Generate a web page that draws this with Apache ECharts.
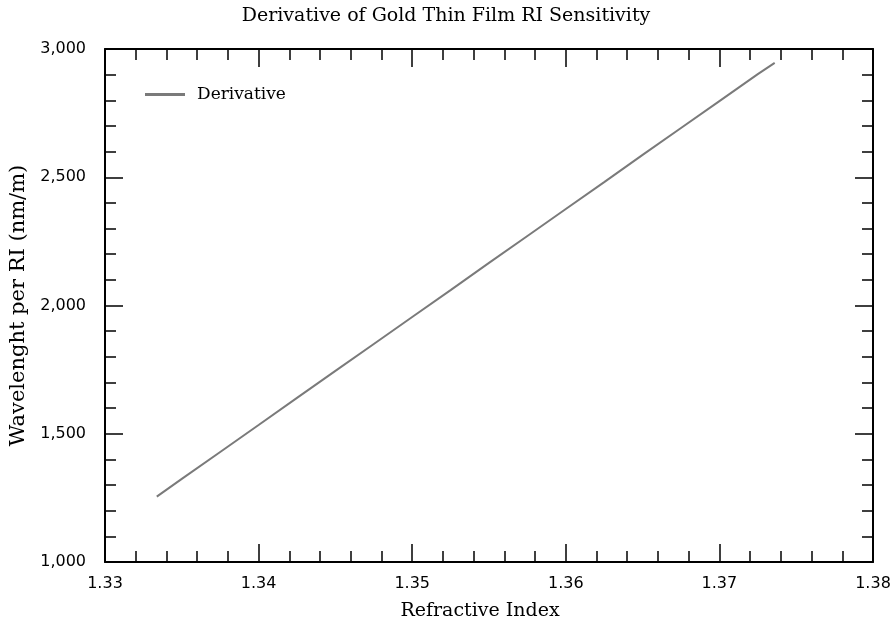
<!DOCTYPE html>
<html>
<head>
<meta charset="utf-8">
<script src="https://cdn.jsdelivr.net/npm/echarts@6/dist/echarts.min.js"></script>
<style>
  html, body { margin: 0; padding: 0; background: #fff; }
  #chart { width: 892px; height: 622px; }
</style>
</head>
<body>
<div id="chart"></div>
<script>
// Refractive index samples and the derivative of the resonance wavelength
const refractiveIndex = [1.33337, 1.3350, 1.3375, 1.3400, 1.3425, 1.3450, 1.3475, 1.3500, 1.3525,
  1.3550, 1.3575, 1.3600, 1.3625, 1.3650, 1.3675, 1.3700, 1.3725, 1.3736];
const derivative = [1255, 1324, 1429, 1534, 1640, 1745, 1850, 1955, 2060,
  2166, 2271, 2376, 2481, 2587, 2692, 2797, 2902, 2946];
const xTicks = [1.33, 1.34, 1.35, 1.36, 1.37, 1.38];
const yTicks = [1000, 1500, 2000, 2500, 3000];

const serif = '"DejaVu Serif", "Liberation Serif", serif';
const sans = '"DejaVu Sans", "Liberation Sans", sans-serif';

const chart = echarts.init(document.getElementById('chart'));

const frameAxis = {
  axisLine: { show: true, onZero: false, lineStyle: { color: '#000', width: 2 } },
  axisTick: { show: true, inside: true, length: 18, lineStyle: { color: '#000', width: 1.5 } },
  minorTick: { show: true, splitNumber: 5, length: 11, lineStyle: { color: '#000', width: 1.5 } },
  splitLine: { show: false }
};

chart.setOption({
  animation: false,
  backgroundColor: '#fff',
  title: {
    text: 'Derivative of Gold Thin Film RI Sensitivity',
    left: 'center',
    top: 2,
    textStyle: { fontFamily: serif, fontSize: 19, fontWeight: 'normal', color: '#000' }
  },
  legend: {
    left: 140,
    top: 81,
    itemWidth: 40,
    itemHeight: 3,
    itemGap: 10,
    textStyle: { fontFamily: serif, fontSize: 17, color: '#000', padding: [0, 0, 0, 7] },
    data: [{ name: 'Derivative', icon: 'rect' }]
  },
  grid: { left: 105, right: 19, top: 49, bottom: 60, outerBoundsMode: 'none', containLabel: false },
  xAxis: [
    Object.assign({
      type: 'value',
      position: 'bottom',
      min: xTicks[0],
      max: xTicks[xTicks.length - 1],
      interval: 0.01,
      name: 'Refractive Index',
      nameLocation: 'middle',
      nameGap: 40,
      nameTextStyle: { fontFamily: serif, fontSize: 19, color: '#000', padding: [0, 18, 0, 0] },
      axisLabel: {
        margin: 14,
        fontFamily: sans, fontSize: 16, color: '#000',
        formatter: v => v.toFixed(2)
      }
    }, frameAxis),
    Object.assign({
      type: 'value',
      position: 'top',
      min: xTicks[0],
      max: xTicks[xTicks.length - 1],
      interval: 0.01,
      axisLabel: { show: false }
    }, frameAxis)
  ],
  yAxis: [
    Object.assign({
      type: 'value',
      position: 'left',
      min: yTicks[0],
      max: yTicks[yTicks.length - 1],
      interval: 500,
      name: 'Wavelenght per RI (nm/m)',
      nameLocation: 'middle',
      nameGap: 74,
      nameTextStyle: { fontFamily: serif, fontSize: 21, color: '#000' },
      axisLabel: {
        margin: 19,
        fontFamily: sans, fontSize: 16, color: '#000',
        formatter: v => v.toLocaleString('en-US')
      }
    }, frameAxis),
    Object.assign({
      type: 'value',
      position: 'right',
      min: yTicks[0],
      max: yTicks[yTicks.length - 1],
      interval: 500,
      axisLabel: { show: false }
    }, frameAxis)
  ],
  series: [{
    name: 'Derivative',
    type: 'line',
    xAxisIndex: 0,
    yAxisIndex: 0,
    symbol: 'none',
    lineStyle: { color: '#7a7a7a', width: 2 },
    itemStyle: { color: '#7a7a7a' },
    data: refractiveIndex.map((x, i) => [x, derivative[i]])
  }]
});
</script>
</body>
</html>
